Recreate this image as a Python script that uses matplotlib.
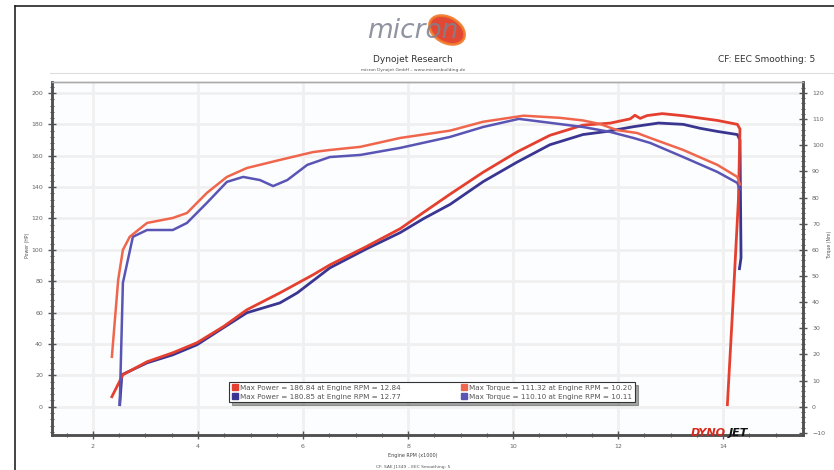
import numpy as np
import matplotlib
matplotlib.use("Agg")
import matplotlib.pyplot as plt
from matplotlib.lines import Line2D
from matplotlib.patches import Ellipse

#
# Dyno run data (engine rpm x1000, power hp, torque)
#
rpm_pw_red = [2.36, 2.57, 3.03, 3.52, 3.98, 4.48, 4.93, 5.56, 6.19, 6.51, 7.2, 7.85, 8.3, 8.80,
              9.43, 10.08, 10.70, 11.33, 11.85, 12.23, 12.32, 12.42, 12.55, 12.84, 13.24,
              13.56, 13.89, 14.27, 14.32, 14.29, 14.19, 14.08]
pw_red = [6.4, 20.4, 28.7, 34.4, 40.8, 51.0, 61.8, 72.6, 84.1, 90.4, 102.0, 113.5, 124.0, 135.5,
          149.5, 162.5, 173.0, 179.5, 180.8, 183.5, 185.8, 183.8, 185.6, 186.84, 185.5,
          184.0, 182.5, 180.0, 177.0, 131.8, 68.0, 1.3]

rpm_pw_blue = [2.51, 2.55, 3.03, 3.52, 3.98, 4.48, 4.93, 5.31, 5.56, 5.89, 6.51, 7.2, 7.85, 8.3,
               8.80, 9.43, 10.08, 10.70, 11.33, 11.79, 12.29, 12.77, 13.24, 13.56, 13.89,
               14.27, 14.32, 14.34, 14.31]
pw_blue = [1.3, 20.4, 28.0, 33.1, 39.5, 50.3, 59.9, 63.7, 66.2, 72.6, 88.5, 100.5, 111.0, 120.0,
           129.0, 143.5, 156.0, 167.0, 173.5, 175.5, 178.5, 180.85, 180.0, 177.5, 175.5,
           173.5, 170.0, 95.0, 88.0]

rpm_tq_red = [2.36, 2.48, 2.57, 2.70, 3.03, 3.52, 3.79, 4.17, 4.55, 4.93, 5.56, 6.19, 6.51,
              7.09, 7.85, 8.80, 9.43, 10.20, 10.89, 11.33, 11.66, 11.98, 12.36, 12.61,
              13.24, 13.89, 14.27, 14.32]
tq_red = [19.1, 48.5, 60.0, 65.0, 70.3, 72.2, 74.1, 81.8, 87.9, 91.3, 94.4, 97.4, 98.2,
          99.4, 102.8, 105.6, 109.0, 111.32, 110.5, 109.5, 108.1, 105.8, 104.7, 102.8,
          98.2, 92.5, 87.9, 85.0]

rpm_tq_blue = [2.51, 2.57, 2.76, 3.03, 3.52, 3.79, 4.17, 4.55, 4.86, 5.18, 5.43, 5.70, 6.08,
               6.51, 7.09, 7.85, 8.80, 9.43, 10.11, 10.70, 11.33, 11.85, 12.29, 12.61,
               13.24, 13.89, 14.27, 14.32]
tq_blue = [0.8, 47.4, 65.0, 67.6, 67.6, 70.3, 78.0, 86.0, 87.9, 86.7, 84.4, 86.7, 92.5,
           95.5, 96.3, 99.0, 103.2, 107.0, 110.10, 108.6, 107.0, 105.1, 102.8, 100.9,
           95.5, 89.8, 85.6, 83.0]

legend_labels = ["Max Power = 186.84 at Engine RPM = 12.84",
                 "Max Power = 180.85 at Engine RPM = 12.77",
                 "Max Torque = 111.32 at Engine RPM = 10.20",
                 "Max Torque = 110.10 at Engine RPM = 10.11"]

red = "#e5402f"
red_t = "#f0664d"
blue = "#3b3592"
blue_t = "#5a55b5"

#
# Figure setup
#
W, H = 834, 470
fig = plt.figure(figsize=(W / 100, H / 100), dpi=100)
ax = fig.add_axes([52 / W, 1 - 435 / H, (803 - 52) / W, (435 - 82) / H])
ax.set_facecolor("#fbfdfe")
ax2 = ax.twinx()

ax.plot(rpm_pw_red, pw_red, color=red, lw=2.0, zorder=4)
ax.plot(rpm_pw_blue, pw_blue, color=blue, lw=2.0, zorder=3)
ax2.plot(rpm_tq_red, tq_red, color=red_t, lw=1.8, zorder=4)
ax2.plot(rpm_tq_blue, tq_blue, color=blue_t, lw=1.8, zorder=3)

ax.set_xlim(1.22, 15.52)
ax.set_ylim(-18, 207)
ax2.set_ylim(-10.8, 124.2)

ax.set_xticks(np.arange(2, 15, 2))
ax.set_xticks(np.arange(1.5, 15.5, 0.5), minor=True)
ax.set_yticks(np.arange(0, 201, 20))
ax.set_yticks(np.arange(-16, 207, 4), minor=True)
ax2.set_yticks(np.arange(-10, 121, 10))
ax2.set_yticks(np.arange(-10, 124, 2), minor=True)

for a in (ax, ax2):
    a.tick_params(which="both", direction="inout", colors="#555555", labelsize=4.5,
                  labelcolor="#666666")
    a.tick_params(which="major", length=6, width=1)
    a.tick_params(which="minor", length=3, width=0.8)
    for s in a.spines.values():
        s.set_color("#505050")
        s.set_linewidth(1.8)
    a.spines["top"].set_color("#aaaaaa")
    a.spines["top"].set_linewidth(1.0)

ax.grid(True, which="major", color="#f0f0f0", lw=2.0)
ax.set_axisbelow(True)

#
# Legend
#
handles = [Line2D([], [], ls="", marker="s", ms=4, color=red),
           Line2D([], [], ls="", marker="s", ms=4, color=blue),
           Line2D([], [], ls="", marker="s", ms=4, color=red_t),
           Line2D([], [], ls="", marker="s", ms=4, color=blue_t)]
leg = ax2.legend(handles, legend_labels, ncol=2, fontsize=5.2, loc="lower left",
                 bbox_to_anchor=(0.231, 0.083, 0.55, 0.09), mode="expand",
                 frameon=True, fancybox=False, shadow=True, borderpad=0.35,
                 handletextpad=0.2, columnspacing=0.8, labelspacing=0.35,
                 handlelength=1.0)
leg.get_frame().set_edgecolor("#333333")
leg.get_frame().set_linewidth(0.8)
for t in leg.get_texts():
    t.set_color("#555555")

#
# Header / labels
#
fig.add_artist(Ellipse((447 / W, 1 - 30 / H), 32 / W, 30 / H, angle=20,
                       facecolor="#e0341e", edgecolor="#f07a2a", lw=2, alpha=0.9))
fig.text(413 / W, 1 - 31 / H, "micron", ha="center", va="center", fontsize=19,
         style="italic", color="#7d8290", alpha=0.85)
fig.text(413 / W, 1 - 60 / H, "Dynojet Research", ha="center", va="center",
         fontsize=6.5, color="#333333")
fig.text(413 / W, 1 - 70 / H, "micron Dynojet GmbH \u2013 www.micronbuilding.de",
         ha="center", va="center", fontsize=3.2, color="#555555")
fig.text(718 / W, 1 - 60 / H, "CF: EEC Smoothing: 5", ha="left", va="center",
         fontsize=6.5, color="#333333")
fig.add_artist(Line2D([50 / W, 1], [1 - 73 / H, 1 - 73 / H], color="#dddddd", lw=0.8))

fig.text(28 / W, 1 - 245 / H, "Power (HP)", rotation=90, ha="center", va="center",
         fontsize=3.3, color="#555555")
fig.text(830 / W, 1 - 245 / H, "Torque (Nm)", rotation=90, ha="center", va="center",
         fontsize=3.3, color="#555555")
fig.text(413 / W, 1 - 456 / H, "Engine RPM (x1000)", ha="center", va="center",
         fontsize=3.5, color="#444444")
fig.text(413 / W, 1 - 467 / H, "CF: SAE J1349 \u2013 EEC Smoothing: 5", ha="center",
         va="center", fontsize=3.2, color="#555555")

fig.text(726 / W, 1 - 433 / H, "DYNO", ha="right", va="center", fontsize=8,
         weight="bold", style="italic", color="#d8281c")
fig.text(729 / W, 1 - 433 / H, "JET", ha="left", va="center", fontsize=8,
         weight="bold", style="italic", color="#111111")

# page borders from the scan
fig.add_artist(Line2D([15 / W, 15 / W], [0, 1 - 6 / H], color="#222222", lw=1.2))
fig.add_artist(Line2D([15 / W, 1], [1 - 6 / H, 1 - 6 / H], color="#222222", lw=1.2))

fig.savefig("out.png", dpi=100)
